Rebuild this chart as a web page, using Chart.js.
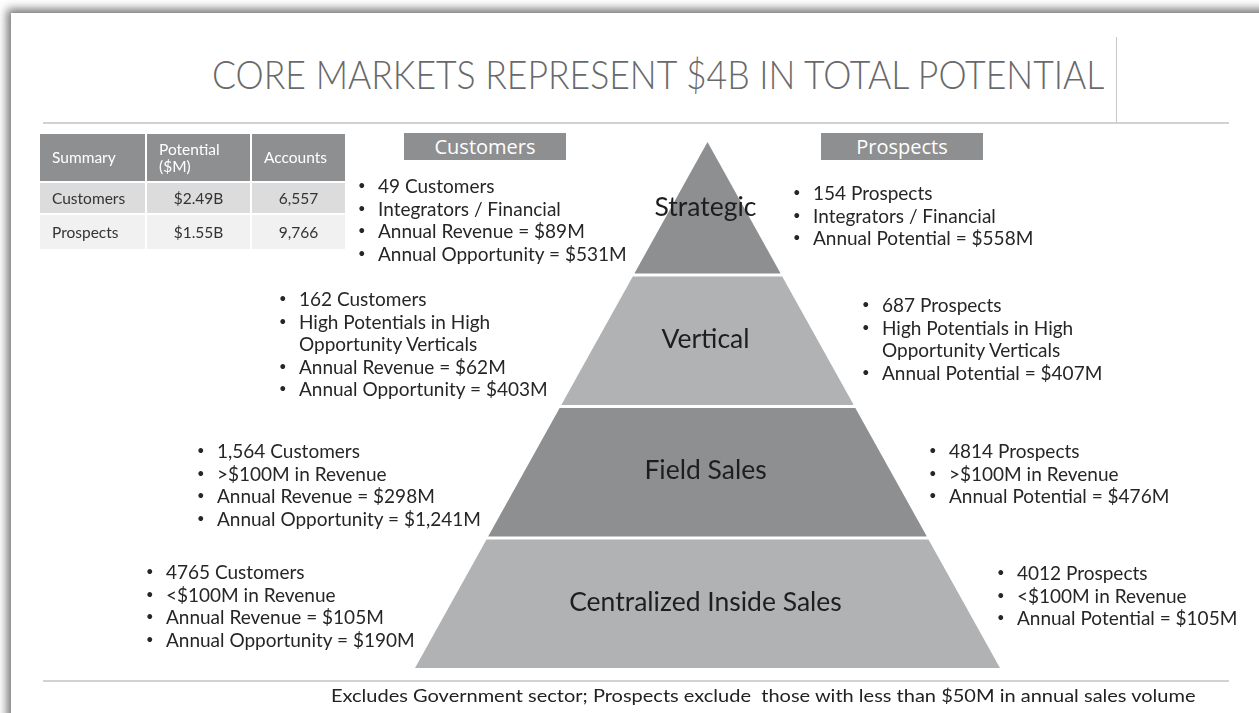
<!DOCTYPE html>
<html>
<head>
<meta charset="utf-8">
<script src="https://cdn.jsdelivr.net/npm/chart.js@4.4.1/dist/chart.umd.min.js"></script>
<style>
  body { margin: 0; width: 1259px; height: 713px; overflow: hidden; background: #fff; position: relative;
         font-family: Lato, "Open Sans", sans-serif; color: #222; }
  #slide { position: absolute; left: 11px; top: 13px; width: 1300px; height: 760px; background: #fff;
           box-shadow: -4px -4px 9px rgba(0,0,0,0.55); }
  .rule { position: absolute; background: #d2d2d2; }
  #title { position: absolute; left: 212px; top: 51px; font-size: 39px; font-weight: 300; color: #68696b;
           white-space: nowrap; transform-origin: 0 0; line-height: 46px; }
  #chart { position: absolute; left: 0; top: 0; }
  .hdr { position: absolute; top: 133px; width: 162px; height: 27px; background: #8e8f91; color: #fff;
         font-family: "Open Sans", sans-serif; font-size: 20px; line-height: 27px; text-align: center; }
  .blk { position: absolute; font-size: 19px; line-height: 22.5px; white-space: nowrap; color: #262626; }
  .li { position: relative; }
  .li .b { position: absolute; left: -20px; top: -1px; font-size: 13px; line-height: 22.5px; }
  table { position: absolute; left: 38px; top: 132px; border-collapse: separate; border-spacing: 2px;
          font-size: 15.5px; }
  th { background: #8e8f91; color: #fff; font-weight: normal; text-align: left; padding: 0 0 0 12px;
       height: 47px; line-height: 17px; }
  td { padding: 0; text-align: center; color: #333; }
  td:first-child { text-align: left; padding-left: 12px; }
  tr.r1 td { background: #dcdcdd; height: 30px; }
  tr.r2 td { background: #f1f1f1; height: 34px; }
  #note { position: absolute; left: 331px; top: 685px; font-size: 17px; white-space: pre; color: #222;
          transform-origin: 0 0; }
</style>
</head>
<body>
<div id="slide"></div>
<div class="rule" style="left:43px; top:122px; width:1186px; height:2px;"></div>
<div class="rule" style="left:1116px; top:37px; width:1px; height:86px; background:#c8c8c8;"></div>
<div class="rule" style="left:43px; top:680px; width:1186px; height:2px;"></div>
<div id="title">CORE MARKETS REPRESENT $4B IN TOTAL POTENTIAL</div>
<canvas id="chart" width="1259" height="713"></canvas>
<div class="hdr" style="left:404px;">Customers</div>
<div class="hdr" style="left:821px;">Prospects</div>
<table id="summary"></table>
<div id="blocks"></div>
<div id="note">Excludes Government sector; Prospects exclude  those with less than $50M in annual sales volume</div>

<script>
// tiers, bottom to top
const tiers = ['Centralized Inside Sales', 'Field Sales', 'Vertical', 'Strategic'];

const customerNotes = [
  ['4765 Customers', '<$100M in Revenue', 'Annual Revenue = $105M', 'Annual Opportunity = $190M'],
  ['1,564 Customers', '>$100M in Revenue', 'Annual Revenue = $298M', 'Annual Opportunity = $1,241M'],
  ['162 Customers', 'High Potentials in High\nOpportunity Verticals', 'Annual Revenue = $62M', 'Annual Opportunity = $403M'],
  ['49 Customers', 'Integrators / Financial', 'Annual Revenue = $89M', 'Annual Opportunity = $531M'],
];

const prospectNotes = [
  ['4012 Prospects', '<$100M in Revenue', 'Annual Potential = $105M'],
  ['4814 Prospects', '>$100M in Revenue', 'Annual Potential = $476M'],
  ['687 Prospects', 'High Potentials in High\nOpportunity Verticals', 'Annual Potential = $407M'],
  ['154 Prospects', 'Integrators / Financial', 'Annual Potential = $558M'],
];

const summaryHeader = ['Summary', 'Potential\n($M)', 'Accounts'];
const summaryNames = ['Customers', 'Prospects'];
const summaryPotential = ['$2.49B', '$1.55B'];
const summaryAccounts = ['6,557', '9,766'];

// where each text block sits (left of text, top of first line)
const customerPos = [[166, 561], [217, 440], [299, 288], [378, 175]];
const prospectPos = [[1017, 562], [949, 440], [882, 294], [813, 182]];

// summary table
const tbl = document.getElementById('summary');
let html = '<tr>' + summaryHeader.map((h, i) =>
  `<th style="width:${[93, 91, 81][i]}px">${h.replace('\n', '<br>')}</th>`).join('') + '</tr>';
summaryNames.forEach((n, i) => {
  html += `<tr class="r${i + 1}"><td>${n}</td><td>${summaryPotential[i]}</td><td>${summaryAccounts[i]}</td></tr>`;
});
tbl.innerHTML = html;

// bullet blocks
const esc = s => s.replace(/&/g, '&amp;').replace(/</g, '&lt;').replace(/>/g, '&gt;');
const blocks = document.getElementById('blocks');
function addBlock(lines, pos) {
  const d = document.createElement('div');
  d.className = 'blk';
  d.style.left = pos[0] + 'px';
  d.style.top = pos[1] + 'px';
  d.innerHTML = lines.map(l => '<div class="li"><span class="b">•</span>' +
    l.split('\n').map(esc).join('<br>') + '</div>').join('');
  blocks.appendChild(d);
}
customerNotes.forEach((l, i) => addBlock(l, customerPos[i]));
prospectNotes.forEach((l, i) => addBlock(l, prospectPos[i]));

// squeeze title and footnote to the widths they have on the slide
const title = document.getElementById('title');
title.style.transform = 'scaleX(' + (892 / title.offsetWidth) + ')';
const note = document.getElementById('note');
note.style.transform = 'scaleX(' + (865 / note.offsetWidth) + ')';

// pyramid: each tier is a line filled down to its own base
const GAP = 0.022;
const halfWidth = y => (tiers.length - y) / tiers.length;
const datasets = tiers.map((name, i) => {
  const bottom = i;
  const top = i === tiers.length - 1 ? tiers.length : i + 1 - GAP;
  const pts = [{ x: -halfWidth(bottom), y: bottom }, { x: -halfWidth(top), y: top }];
  if (halfWidth(top) > 0) pts.push({ x: halfWidth(top), y: top });
  pts.push({ x: halfWidth(bottom), y: bottom });
  return {
    label: name,
    data: pts,
    showLine: true,
    fill: { value: bottom },
    backgroundColor: i % 2 === 0 ? '#b1b2b4' : '#8e8f91',
    borderColor: 'rgba(0,0,0,0)',
    borderWidth: 0,
    pointRadius: 0,
    tension: 0,
  };
});

const tierLabels = {
  id: 'tierLabels',
  afterDatasetsDraw(chart) {
    const { ctx, scales } = chart;
    ctx.save();
    ctx.font = '26.5px Lato, "Open Sans", sans-serif';
    ctx.fillStyle = '#1e1e1e';
    ctx.textAlign = 'center';
    ctx.textBaseline = 'middle';
    tiers.forEach((name, i) => {
      ctx.fillText(name, scales.x.getPixelForValue(0) - 2, scales.y.getPixelForValue(i + 0.5));
    });
    ctx.restore();
  }
};

new Chart(document.getElementById('chart'), {
  type: 'scatter',
  data: { datasets },
  options: {
    responsive: false,
    animation: false,
    devicePixelRatio: 1,
    layout: { padding: { left: 415, right: 259, top: 142, bottom: 45 } },
    scales: {
      x: { display: false, min: -1, max: 1 },
      y: { display: false, min: 0, max: tiers.length },
    },
    plugins: { legend: { display: false }, tooltip: { enabled: false } },
  },
  plugins: [tierLabels],
});
</script>
</body>
</html>
